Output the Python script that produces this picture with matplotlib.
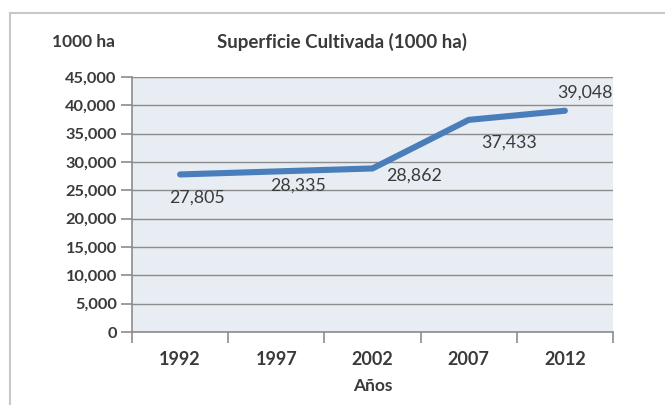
import matplotlib
matplotlib.use("Agg")
import matplotlib.pyplot as plt
from matplotlib.lines import Line2D
from matplotlib.ticker import FuncFormatter, MultipleLocator

years = ["1992", "1997", "2002", "2007", "2012"]
values = [27805, 28335, 28862, 37433, 39048]
value_labels = ["27,805", "28,335", "28,862", "37,433", "39,048"]
title = "Superficie Cultivada (1000 ha)"
y_unit = "1000 ha"
x_title = "Años"

plt.rcParams['font.family'] = ['Lato', 'DejaVu Sans']

W, H = 665, 405
fig = plt.figure(figsize=(W / 100, H / 100), dpi=100)
fig.patch.set_facecolor('white')

def fx(px):
    return px / W

def fy(py):
    return 1 - py / H

left, right, top, bottom = 132, 613, 77, 332
ax = fig.add_axes([fx(left), fy(bottom), fx(right) - fx(left), (bottom - top) / H])
ax.set_facecolor('#e8ecf3')

x = list(range(len(years)))
ax.plot(x, values, color='#4a7ebb', linewidth=4.4, solid_capstyle='round',
        solid_joinstyle='round', zorder=3)

ax.set_xlim(-0.5, len(years) - 0.5)
ax.set_ylim(0, 45000)
ax.yaxis.set_major_locator(MultipleLocator(5000))
ax.yaxis.set_major_formatter(FuncFormatter(lambda v, p: f"{int(v):,}"))
ax.grid(axis='y', color='#8c8c8c', linewidth=1.0, zorder=1)
ax.set_axisbelow(True)

ax.set_xticks(x)
ax.set_xticklabels(years)
ax.set_xticks([i - 0.5 for i in range(len(years) + 1)], minor=True)
ax.tick_params(axis='x', which='major', length=0, pad=14, labelsize=13,
               labelcolor='#3a3a3a')
ax.tick_params(axis='x', which='minor', length=8, color='#8c8c8c', width=1.2)
ax.tick_params(axis='y', length=8, color='#8c8c8c', width=1.2, pad=3,
               labelsize=11.8, labelcolor='#3a3a3a')
for lab in ax.get_xticklabels() + ax.get_yticklabels():
    lab.set_fontweight('bold')

for s in ['top', 'right']:
    ax.spines[s].set_visible(False)
for s in ['left', 'bottom']:
    ax.spines[s].set_color('#8c8c8c')
    ax.spines[s].set_linewidth(1.2)

offsets = [(17, -23), (22, -14), (42, -7), (40, -23), (20, 18)]
for xi, v, lab, (dx, dy) in zip(x, values, value_labels, offsets):
    ax.annotate(lab, (xi, v), xytext=(dx, dy), textcoords='offset pixels',
                ha='center', va='center', fontsize=12.8, color='#3a3a3a',
                zorder=4)

ax.set_xlabel(x_title, fontsize=12.5, fontweight='bold', color='#3a3a3a',
              labelpad=7)

fig.text(fx(342), fy(42), title, ha='center', va='center', fontsize=13.5,
         fontweight='bold', color='#3a3a3a')
fig.text(fx(84), fy(42), y_unit, ha='center', va='center', fontsize=12.5,
         fontweight='bold', color='#3a3a3a')

fig.add_artist(Line2D([fx(10), fx(665)], [fy(13), fy(13)], color='#c8c8c8',
                      linewidth=1.5, transform=fig.transFigure))
fig.add_artist(Line2D([fx(10), fx(10)], [fy(13), fy(405)], color='#c8c8c8',
                      linewidth=1.5, transform=fig.transFigure))

fig.savefig('out.png', dpi=100, facecolor='white')
